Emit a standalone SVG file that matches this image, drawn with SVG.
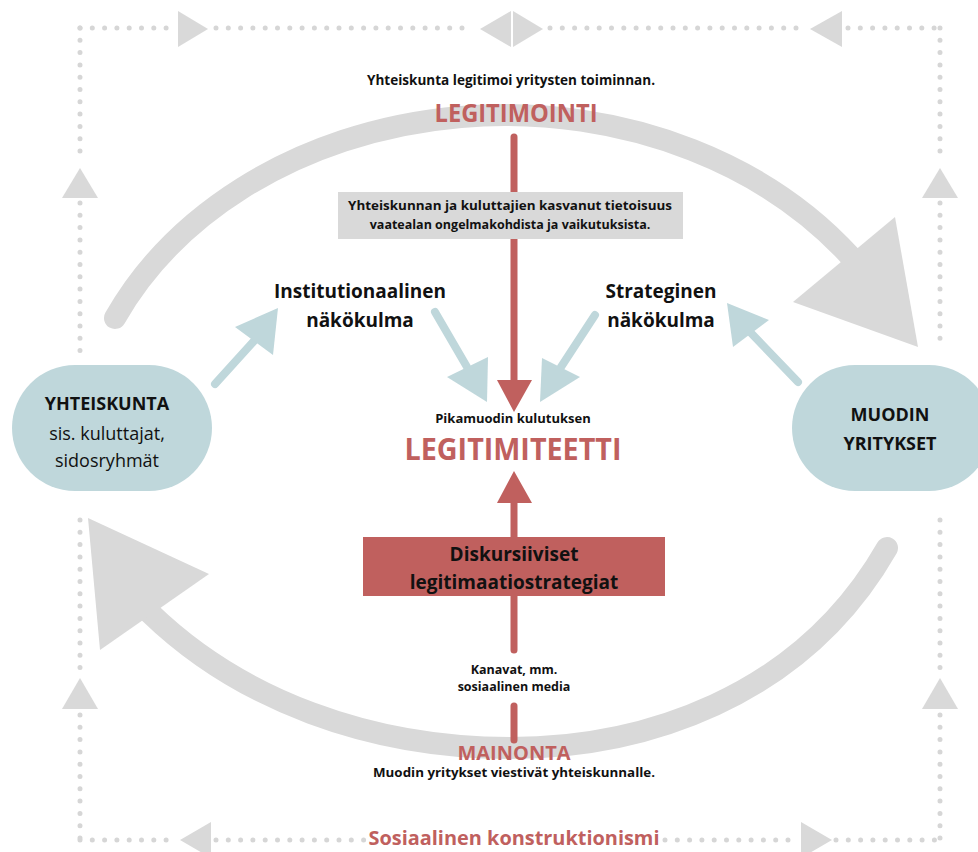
<svg xmlns="http://www.w3.org/2000/svg" width="978" height="852" viewBox="0 0 978 852">
<style>
.dot{fill:none;stroke:#d6d6d6;stroke-width:5;stroke-linecap:round;stroke-dasharray:0 12.3}
.g{fill:#d9d9d9}
.arc{fill:none;stroke:#d9d9d9;stroke-width:22;stroke-linecap:round}
.bl{stroke:#bfd7db;stroke-width:8;stroke-linecap:round}
.blf{fill:#bfd7db}
.rd{stroke:#c0605e;stroke-width:7;stroke-linecap:round}
.rdf{fill:#c0605e}
text{font-family:"Open Sans","Liberation Sans",sans-serif;font-weight:bold;text-anchor:middle;fill:#111}
.red{fill:#c0605e}
.reg{font-weight:normal}
</style>
<rect width="978" height="852" fill="#fff"/>
<g id="frame">
<path class="dot" d="M80,28 H172 M216,28 H474 M550,28 H804 M848,28 H940"/>
<path class="dot" d="M80,28 V163 M80,203 V352 M80,520 V673 M80,715 V840"/>
<path class="dot" d="M940,28 V163 M940,203 V346 M940,520 V673 M940,715 V840"/>
<path class="dot" d="M80,840 H175 M216,840 H365 M665,840 H796 M836,840 H940"/>
<polygon class="g" points="178,11 178,47 208,29"/>
<polygon class="g" points="480,29 511,11 511,47"/>
<polygon class="g" points="513,11 513,47 543,29"/>
<polygon class="g" points="842,11 842,47 810,29"/>
<polygon class="g" points="80,168 62,198 98,198"/>
<polygon class="g" points="80,678 62,709 98,709"/>
<polygon class="g" points="940,168 922,198 958,198"/>
<polygon class="g" points="940,678 922,709 958,709"/>
<polygon class="g" points="180,840 211,822 211,858"/>
<polygon class="g" points="832,840 801,822 801,858"/>
<text class="red" x="514" y="845" font-size="20" textLength="291" lengthAdjust="spacingAndGlyphs">Sosiaalinen konstruktionismi</text>
</g>
<g id="connectors">
<path class="arc" d="M115,318 A430,350 0 0 1 850,256"/>
<polygon class="g" points="895,217 793,302 918,347"/>
<path class="arc" d="M887,548 C800,700 640,748 510,748 C370,748 240,700 150,613"/>
<polygon class="g" points="88,518 209,574 100,650"/>
<line class="bl" x1="215" y1="384" x2="254" y2="341"/>
<polygon class="blf" points="278,308 235,327 273,355"/>
<line class="bl" x1="435" y1="312" x2="467" y2="367"/>
<polygon class="blf" points="487,402 447,377 488,357"/>
<line class="bl" x1="595" y1="315" x2="561" y2="367"/>
<polygon class="blf" points="540,402 542,358 580,377"/>
<line class="bl" x1="798" y1="382" x2="751" y2="333"/>
<polygon class="blf" points="727,303 733,347 769,320"/>
<line class="rd" x1="514" y1="137" x2="514" y2="384"/>
<polygon class="rdf" points="497,380 532,380 514,412"/>
<line class="rd" x1="514" y1="500" x2="514" y2="650"/>
<polygon class="rdf" points="497,503 532,503 514,471"/>
<line class="rd" x1="514" y1="706" x2="514" y2="740"/>
</g>
<g id="legitimointi">
<text x="511" y="85" font-size="13.5" textLength="288" lengthAdjust="spacingAndGlyphs">Yhteiskunta legitimoi yritysten toiminnan.</text>
<text class="red" x="516" y="122" font-size="25" textLength="163" lengthAdjust="spacingAndGlyphs">LEGITIMOINTI</text>
</g>
<g id="tietoisuus">
<rect x="338" y="192" width="345" height="47" fill="#d9d9d9"/>
<text x="510" y="210" font-size="12.5" textLength="324" lengthAdjust="spacingAndGlyphs">Yhteiskunnan ja kuluttajien kasvanut tietoisuus</text>
<text x="510" y="229" font-size="12.5">vaatealan ongelmakohdista ja vaikutuksista.</text>
</g>
<g id="institutionaalinen">
<text x="360" y="298" font-size="19">Institutionaalinen</text>
<text x="360" y="327" font-size="19">näkökulma</text>
</g>
<g id="strateginen">
<text x="661" y="298" font-size="19">Strateginen</text>
<text x="661" y="327" font-size="19">näkökulma</text>
</g>
<g id="yhteiskunta">
<rect x="12" y="365" width="200" height="126" rx="63" fill="#bfd7db"/>
<text x="107" y="410" font-size="18">YHTEISKUNTA</text>
<text class="reg" x="107" y="440" font-size="18">sis. kuluttajat,</text>
<text class="reg" x="107" y="467" font-size="18">sidosryhmät</text>
</g>
<g id="muodin-yritykset">
<rect x="792" y="365" width="200" height="126" rx="63" fill="#bfd7db"/>
<text x="890" y="421" font-size="18">MUODIN</text>
<text x="890" y="450" font-size="18">YRITYKSET</text>
</g>
<g id="legitimiteetti">
<text x="513" y="423" font-size="13">Pikamuodin kulutuksen</text>
<text class="red" x="513" y="460" font-size="30" textLength="217" lengthAdjust="spacingAndGlyphs">LEGITIMITEETTI</text>
</g>
<g id="diskursiiviset">
<rect x="363" y="537" width="302" height="59" fill="#c0605e"/>
<text x="514" y="561" font-size="19">Diskursiiviset</text>
<text x="514" y="589" font-size="19">legitimaatiostrategiat</text>
</g>
<g id="kanavat">
<text x="514" y="674" font-size="12.5">Kanavat, mm.</text>
<text x="514" y="691" font-size="12.5">sosiaalinen media</text>
</g>
<g id="mainonta">
<text class="red" x="514" y="760" font-size="20" textLength="113" lengthAdjust="spacingAndGlyphs">MAINONTA</text>
<text x="514" y="777" font-size="12.5" textLength="282" lengthAdjust="spacingAndGlyphs">Muodin yritykset viestivät yhteiskunnalle.</text>
</g>
</svg>
